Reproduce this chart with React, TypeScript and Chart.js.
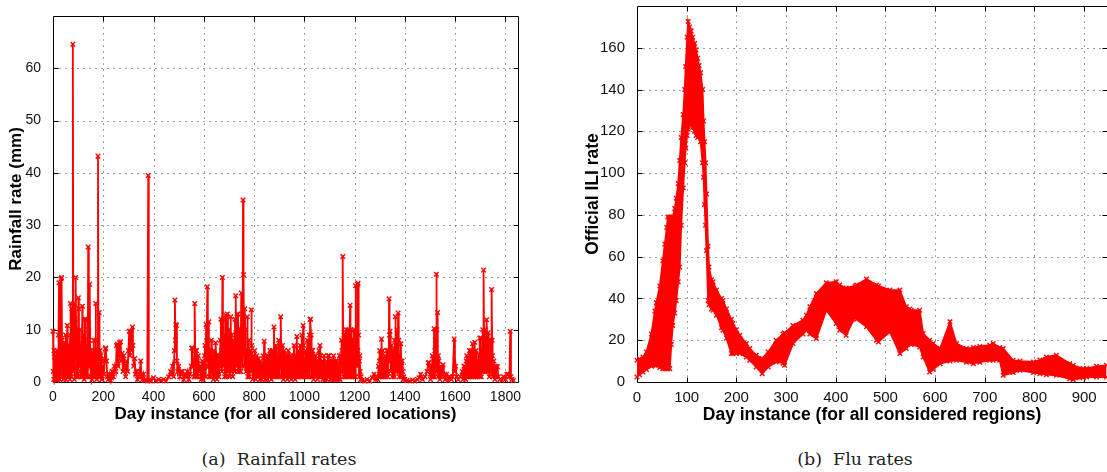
import React, { useEffect, useRef } from "react";
import { Chart, registerables } from "chart.js";

Chart.register(...registerables);

const RED = "#ff0000";
const SANS = "'Liberation Sans', Arial, Helvetica, sans-serif";

// ---------- (a) Rainfall rates: peaks / main readings ----------
const rainDays = [
  0, 3, 6, 9, 12, 15, 18, 21, 24, 26, 29, 32, 34, 36, 39, 42, 45, 48, 50, 53,
  57, 60, 63, 66, 70, 72, 75, 79, 81, 84, 87, 90, 92, 95, 98, 101, 103, 106, 109, 112,
  115, 117, 120, 123, 126, 128, 130, 133, 136, 140, 142, 146, 148, 151, 154, 157, 160, 163, 166, 170,
  172, 175, 179, 181, 184, 187, 190, 193, 196, 199, 202, 205, 208, 210, 213, 216, 220, 225, 230, 235,
  240, 245, 250, 253, 256, 259, 262, 265, 269, 272, 275, 278, 282, 285, 289, 293, 297, 300, 303, 306,
  309, 312, 316, 318, 321, 325, 328, 332, 336, 340, 345, 349, 352, 356, 360, 365, 370, 375, 379, 381,
  385, 390, 400, 410, 420, 430, 440, 450, 460, 468, 472, 476, 480, 483, 485, 487, 489, 491, 493, 496,
  500, 505, 510, 515, 520, 525, 530, 535, 540, 545, 550, 552, 554, 557, 560, 564, 566, 569, 572, 577,
  580, 584, 588, 592, 596, 600, 603, 606, 609, 612, 614, 616, 620, 623, 626, 630, 633, 636, 640, 643,
  647, 650, 654, 658, 662, 666, 668, 670, 674, 676, 678, 681, 684, 687, 690, 694, 697, 700, 704, 707,
  710, 713, 717, 720, 724, 727, 730, 733, 736, 739, 742, 745, 749, 752, 756, 758, 760, 763, 766, 770,
  773, 776, 779, 782, 786, 789, 792, 795, 799, 802, 805, 809, 813, 817, 821, 825, 829, 833, 836, 840,
  843, 847, 851, 855, 859, 863, 866, 870, 875, 879, 882, 886, 890, 894, 898, 902, 906, 908, 911, 915,
  918, 922, 926, 930, 934, 938, 942, 946, 950, 954, 957, 961, 965, 970, 973, 977, 980, 984, 987, 990,
  993, 995, 998, 1001, 1005, 1008, 1012, 1015, 1020, 1023, 1025, 1028, 1031, 1035, 1038, 1042, 1046, 1050, 1055, 1058,
  1062, 1065, 1068, 1072, 1076, 1080, 1084, 1088, 1092, 1095, 1098, 1101, 1105, 1108, 1112, 1116, 1120, 1124, 1128, 1132,
  1136, 1140, 1144, 1148, 1150, 1153, 1155, 1158, 1161, 1164, 1167, 1170, 1174, 1178, 1182, 1184, 1187, 1190, 1193, 1197,
  1200, 1204, 1206, 1208, 1211, 1214, 1216, 1219, 1222, 1226, 1230, 1240, 1250, 1260, 1270, 1277, 1284, 1290, 1295, 1300,
  1303, 1307, 1310, 1314, 1318, 1322, 1326, 1330, 1334, 1337, 1339, 1341, 1344, 1348, 1352, 1356, 1359, 1362, 1365, 1369,
  1373, 1376, 1380, 1384, 1387, 1391, 1395, 1400, 1408, 1420, 1430, 1440, 1450, 1456, 1463, 1470, 1480, 1488, 1493, 1496,
  1500, 1505, 1509, 1513, 1516, 1519, 1522, 1525, 1527, 1530, 1533, 1537, 1541, 1545, 1549, 1552, 1555, 1560, 1566, 1572,
  1578, 1585, 1590, 1596, 1599, 1602, 1606, 1612, 1620, 1628, 1635, 1640, 1644, 1648, 1652, 1655, 1658, 1662, 1666, 1669,
  1672, 1675, 1678, 1681, 1685, 1690, 1695, 1698, 1702, 1705, 1710, 1713, 1716, 1720, 1722, 1725, 1728, 1731, 1734, 1737,
  1741, 1745, 1748, 1752, 1756, 1760, 1764, 1768, 1772, 1778, 1785, 1792, 1800, 1806, 1812, 1816, 1819, 1822, 1826, 1832,
];
const rainRates = [
  9.7, 0.5, 4.8, 1, 3, 0.3, 4.5, 2, 19, 5, 1.5, 19.8, 20, 8, 3, 0.5, 7.5, 2, 9, 3.5,
  10.8, 4, 1, 7, 15, 6, 14, 64.6, 2, 15, 8, 20, 10, 3, 6, 16.1, 14, 5, 2, 7,
  4, 14.5, 9, 3, 12, 6, 12, 2, 5, 25.8, 10, 18.7, 6, 3, 4.5, 1, 2, 8, 3, 15,
  5, 2, 43.2, 3, 13.3, 6, 1, 4, 0.5, 3, 1.5, 4, 6.3, 6.5, 4, 1, 0.5, 1.5, 0.3, 2,
  1, 3, 2, 7, 7.2, 3, 5, 7.5, 7.7, 4, 5.5, 2, 5, 3, 1, 4, 2, 6, 9.7, 5,
  9.7, 6, 10.5, 7, 3, 4.5, 1.5, 2, 0.5, 1, 2, 4, 1, 0.5, 1.5, 0.3, 0.5, 0.2, 39.5, 0.3,
  0.5, 0.2, 0.8, 0.2, 0.5, 0.3, 0.5, 0.2, 1, 2, 1.5, 3, 1, 6, 15.7, 8, 11, 10.8, 4, 2,
  3, 1, 2, 2, 0.5, 1.5, 1, 2, 0.5, 1.5, 3, 6.5, 6.5, 3, 4, 15, 6, 3, 4, 3.5,
  2, 3, 1, 2.5, 1, 3, 5, 3, 11, 8, 18.2, 6, 11.5, 5, 3, 8, 4, 2, 6, 3,
  7.5, 4, 2, 5, 3, 8, 12, 6, 20, 8, 12, 5, 9, 12.8, 5, 13, 7, 4, 9, 12.5,
  6, 4, 8, 5, 12, 16.5, 8, 13, 13, 6, 10, 5, 17, 10, 34.8, 20.5, 8, 14, 6, 4,
  12.5, 5, 8, 3, 6, 13.8, 4, 2.5, 5, 6, 2, 3, 1, 4.5, 2, 4, 1, 3, 5, 7.8,
  3, 2, 5, 1.5, 3, 6, 2, 5, 4, 10.5, 3, 6, 2, 5, 8, 6, 12.5, 6.2, 3, 5,
  2, 4, 1.5, 3, 5, 2, 4, 1, 3, 5, 3, 5, 2, 8.7, 3, 6, 3, 7, 4, 9,
  5, 10.8, 4, 2, 6, 3, 8, 4, 9, 12, 12, 6, 3, 4, 1.5, 3, 5, 2, 4, 6,
  7, 3, 1, 4, 2, 3, 1, 4, 2, 3, 5, 2, 4, 1, 3, 5, 1, 4, 2, 3,
  1, 5, 2, 8, 6, 24, 4, 9, 9.2, 4, 7, 3, 10, 6, 14.7, 8, 4, 6, 3, 10,
  5, 18.4, 8, 5, 18.7, 18.9, 9, 4, 2, 1, 0.3, 0.2, 0.5, 0.2, 0.8, 1.5, 0.5, 1, 3, 6,
  4, 8.2, 3, 4, 2, 5, 3, 2, 6, 15.9, 9, 9.7, 5, 4, 6, 3, 8, 12.5, 6, 10,
  13.2, 8, 4, 7.3, 3, 2, 1, 0.5, 0.3, 0.2, 0.4, 0.2, 0.5, 0.8, 1.5, 0.5, 1, 2, 3.7, 3.7,
  1.5, 3, 5, 3, 10.2, 6, 4, 20.6, 10, 13.3, 5, 2, 1, 2, 1.5, 3.3, 1, 0.5, 1.5, 0.3,
  1, 0.5, 1, 8.2, 2, 3, 1, 0.5, 1, 2, 3, 2, 4, 2, 4.6, 4.6, 2, 5, 3, 7.3,
  3, 5, 7.6, 3, 4, 2, 5, 8.4, 8.4, 4, 10, 21.4, 6, 9, 10, 11.9, 5, 9.4, 4, 3,
  8, 17.7, 5, 2, 1.5, 3, 2.9, 2.9, 1, 0.5, 0.3, 1, 0.5, 1.5, 1.5, 1, 9.7, 1, 0.5, 0.3,
];
// ---------- (a) extra readings of the dense low-rate mass ----------
const rainExtraDays = [
  1, 4, 7, 10, 13, 16, 19, 22, 27, 30, 37, 40, 43, 46, 51, 55, 58, 61, 64, 67,
  68, 73, 77, 82, 85, 88, 93, 96, 99, 104, 107, 110, 113, 118, 121, 124, 127, 131, 134, 138,
  143, 145, 149, 152, 155, 158, 161, 164, 168, 171, 174, 177, 182, 185, 188, 191, 194, 197,
  561, 563, 567, 571, 575, 578, 586, 590, 594, 598, 602, 605, 608, 611, 618, 621, 625, 628, 632, 635,
  638, 642, 645, 649, 652, 656, 660, 664, 672, 679, 683, 686, 689, 692, 696, 699, 702, 706, 709, 712,
  715, 719, 722, 726, 729, 732, 735, 738, 741, 744, 747, 751, 754, 762, 765, 768, 772, 775, 778, 781,
  784, 788, 791, 794, 797, 801, 804, 807, 811, 815, 819, 823, 827, 831, 835, 838, 842, 845, 849, 853,
  857, 861, 865, 868, 872, 877, 881, 884, 888, 892, 896, 900, 904,
  910, 913, 917, 920, 924, 928, 932, 936, 940, 944, 948, 952, 956, 959, 963, 967, 972, 975, 979, 982,
  986, 989, 992, 997, 1000, 1003, 1006, 1010, 1013, 1017, 1021, 1027, 1030, 1033, 1037, 1040, 1044, 1048, 1052, 1057,
  1060, 1064, 1067, 1070, 1074, 1078, 1082, 1086, 1090, 1094, 1097, 1100, 1103, 1107, 1110, 1114, 1118, 1122, 1126, 1130,
  1134, 1138, 1142, 1146, 1152, 1157, 1160, 1163, 1166, 1169, 1172, 1176, 1180, 1183, 1186, 1189, 1192, 1195, 1199, 1202,
  1205, 1210, 1213, 1218, 1221, 1224,
  1292, 1297, 1299, 1302, 1305, 1309, 1312, 1316, 1320, 1324, 1328, 1332, 1336, 1343, 1346, 1350, 1354, 1358, 1361, 1364,
  1367, 1371, 1375, 1378, 1382, 1386, 1389, 1393,
  1502, 1507, 1511, 1515, 1518, 1521, 1524, 1529, 1532, 1535, 1539, 1543,
  1632, 1638, 1642, 1646, 1650, 1654, 1657, 1660, 1664, 1668, 1671, 1674, 1677, 1680, 1683, 1688, 1692, 1697, 1700, 1704,
  1708, 1712, 1715, 1718, 1721, 1724, 1727, 1730, 1733, 1736, 1739, 1743, 1747, 1750, 1754, 1758, 1762,
];
const rainExtraRates = [
  2, 6, 0.5, 5, 1, 6, 0.5, 9, 0.5, 8, 1, 6, 2, 1, 0.5, 6, 1, 7, 2, 0.5,
  9, 1, 8, 6, 0.5, 12, 1, 8, 1, 3, 10, 1, 4, 1, 6, 0.5, 8, 1, 7, 1,
  3, 8, 1, 6, 0.5, 5, 1, 5, 1, 8, 0.5, 6, 1, 5, 1, 5, 0.5, 2,
  1, 4, 1, 6, 1, 5, 3, 0.5, 4, 0.5, 2, 7, 1, 4, 3, 1, 6, 1, 2, 5,
  0.5, 4, 1, 5, 0.5, 4, 1, 5, 2, 3, 1, 6, 1, 8, 2, 10, 1, 6, 2, 9,
  1, 7, 2, 9, 3, 6, 2, 10, 2, 8, 2, 6, 3, 3, 10, 2, 6, 1, 5, 1,
  5, 2, 7, 0.5, 4, 1, 4, 0.5, 5, 1, 3, 0.5, 3, 0.5, 2, 1, 4, 0.5, 4, 0.5,
  5, 1, 4, 0.5, 6, 1, 5, 1, 7, 1, 4, 1, 7,
  1, 7, 0.5, 6, 1, 5, 0.5, 6, 1, 5, 0.5, 4, 1, 7, 0.5, 5, 1, 4, 1, 5,
  1, 6, 1, 7, 1, 4, 1, 5, 1, 6, 1, 9, 1, 6, 0.5, 5, 1, 4, 0.5, 3,
  1, 5, 1, 3, 0.5, 5, 0.5, 3, 0.5, 5, 1, 4, 0.5, 4, 0.5, 4, 0.5, 3, 0.5, 4,
  0.5, 3, 0.5, 5, 2, 1, 5, 1, 10, 1, 5, 1, 8, 1, 10, 1, 8, 1, 7, 1,
  9, 3, 6, 1, 5, 0.5,
  0.5, 1, 4, 1, 5, 1, 6, 1, 4, 1, 6, 1, 4, 2, 7, 1, 5, 1, 6, 2,
  8, 2, 5, 1, 4, 1, 4, 0.5,
  0.5, 1, 1, 2, 1, 8, 2, 4, 1, 4, 0.5, 3,
  0.5, 3, 0.5, 5, 1, 1, 6, 1, 6, 1, 5, 1, 4, 1, 6, 1, 3, 1, 5, 1,
  6, 2, 9, 2, 6, 2, 8, 2, 7, 1, 5, 2, 8, 1, 4, 0.5, 1,
];
const rainXTicks = [0, 200, 400, 600, 800, 1000, 1200, 1400, 1600, 1800];
const rainYTicks = [0, 10, 20, 30, 40, 50, 60];

// ---------- (b) Flu rates (band: upper / lower envelope) ----------
const fluDays = [
  0, 5, 12, 19, 29, 36, 39, 46, 52, 56, 60, 62, 66, 69, 72, 76, 79, 83, 86, 89,
  93, 96, 98, 101, 103, 106, 109, 112, 116, 119, 122, 125, 128, 132, 134, 136, 138, 140, 143, 145,
  150, 153, 160, 170, 173, 180, 190, 193, 200, 207, 220, 227, 240, 252, 264, 280, 294, 297, 314, 334,
  341, 348, 361, 381, 401, 408, 421, 439, 442, 462, 482, 486, 509, 529, 542, 549, 552, 569, 576, 589,
  596, 610, 630, 643, 663, 677, 690, 710, 717, 730, 737, 757, 771, 798, 811, 824, 844, 871, 878, 898,
  905, 925, 945,
];
const fluUpper = [
  10.4, 11, 12, 14.4, 23, 34, 38, 46, 58, 66, 74, 79, 79, 79, 79, 83, 88, 95, 106, 117,
  128, 140, 151, 165, 172.6, 170, 168, 165, 162, 159, 155, 151.5, 148, 140, 125, 115, 105, 90, 65, 55,
  49, 48, 44, 40, 39, 35, 30, 28, 25, 22.4, 18.4, 16, 12.8, 11.2, 14.4, 20, 23, 23.5, 27, 29.6,
  32, 36, 42.4, 47.5, 48, 46.4, 45, 46, 46.4, 49.3, 46.4, 46, 44, 44, 36, 35, 34.4, 34.4, 23.2, 20,
  18.4, 16, 28.8, 18.4, 16, 16.5, 17, 17.6, 18.4, 16.5, 16, 10.4, 10, 9.6, 10.5, 12, 12.8, 8.8, 8, 6.4,
  6.5, 7.5, 8,
];
const fluLower = [
  2.4, 3.5, 4.8, 6, 7.5, 8, 8, 7, 6.4, 6.4, 6.4, 6.4, 6.4, 18, 27, 33, 39, 48, 55, 75,
  93, 105, 112, 118, 121, 124, 123, 122, 120, 118, 117, 118, 115, 105, 98, 85, 75, 63, 39, 37,
  35, 34.4, 32, 26, 24.8, 21, 13.6, 13.6, 13.6, 13.6, 12, 10.4, 7.2, 4, 7.2, 9.6, 9, 8, 18.4, 23,
  24.8, 23, 20.8, 34.4, 28, 24.8, 22.4, 31.2, 30, 26.4, 20, 19.2, 24, 13.6, 16, 18.4, 18, 16.8, 12, 4.8,
  6, 8.8, 10, 10.4, 9.5, 8.8, 9.5, 10.4, 10.4, 10.4, 3.2, 4.5, 5.6, 4.5, 4, 3.5, 3.2, 1.5, 1.1, 2,
  2.4, 2.4, 2.4,
];
const fluXTicks = [0, 100, 200, 300, 400, 500, 600, 700, 800, 900];
const fluYTicks = [0, 20, 40, 60, 80, 100, 120, 140, 160];

// MATLAB-like frame: dotted grid, black box, inward tick marks
const framePlugin = {
  id: "matlabFrame",
  beforeDatasetsDraw(chart: any) {
    const { ctx, chartArea: a, scales } = chart;
    const xs = scales.x;
    const ys = scales.y;
    const L = Math.round(a.left) + 0.5;
    const R = Math.round(a.right) + 0.5;
    const T = Math.round(a.top) + 0.5;
    const B = Math.round(a.bottom) + 0.5;
    ctx.save();
    ctx.lineWidth = 1;
    ctx.strokeStyle = "rgba(30,30,30,0.85)";
    ctx.setLineDash([1, 5]);
    ctx.beginPath();
    for (const t of xs.ticks) {
      const px = Math.round(xs.getPixelForValue(t.value)) + 0.5;
      if (px <= L + 1 || px >= R - 1) continue;
      ctx.moveTo(px, B);
      ctx.lineTo(px, T);
    }
    for (const t of ys.ticks) {
      const py = Math.round(ys.getPixelForValue(t.value)) + 0.5;
      if (py <= T + 1 || py >= B - 1) continue;
      ctx.moveTo(L, py);
      ctx.lineTo(R, py);
    }
    ctx.stroke();
    ctx.setLineDash([]);
    ctx.strokeStyle = "#000";
    ctx.beginPath();
    ctx.rect(L, T, R - L, B - T);
    const tl = 5;
    for (const t of xs.ticks) {
      const px = Math.round(xs.getPixelForValue(t.value)) + 0.5;
      if (px <= L + 1 || px >= R - 1) continue;
      ctx.moveTo(px, B);
      ctx.lineTo(px, B - tl);
      ctx.moveTo(px, T);
      ctx.lineTo(px, T + tl);
    }
    for (const t of ys.ticks) {
      const py = Math.round(ys.getPixelForValue(t.value)) + 0.5;
      if (py <= T + 1 || py >= B - 1) continue;
      ctx.moveTo(L, py);
      ctx.lineTo(L + tl, py);
      ctx.moveTo(R, py);
      ctx.lineTo(R - tl, py);
    }
    ctx.stroke();
    ctx.restore();
  },
};

function makeScales(o: {
  xMax: number;
  yMax: number;
  xTicks: number[];
  yTicks: number[];
  yAxisWidth: number;
  tickSize: number;
  titleSize: number;
  xTitle: string;
  yTitle: string;
  xLabelPad: number;
  yLabelPad: number;
  xTitlePad: number;
  yTitlePad: number;
}) {
  return {
    x: {
      type: "linear",
      min: 0,
      max: o.xMax,
      afterBuildTicks: (s: any) => {
        s.ticks = o.xTicks.map((v) => ({ value: v }));
      },
      afterFit: (s: any) => {
        s.height = 48;
        s.paddingLeft = 0;
        s.paddingRight = 0;
      },
      grid: { display: false },
      border: { display: false },
      ticks: {
        autoSkip: false,
        maxRotation: 0,
        padding: o.xLabelPad,
        color: "#111",
        font: { family: SANS, size: o.tickSize },
        callback: (v: any) => String(v),
      },
      title: {
        display: true,
        text: o.xTitle,
        color: "#000",
        font: { family: SANS, size: o.titleSize, weight: "bold" },
        padding: { top: 0, bottom: o.xTitlePad },
      },
    },
    y: {
      type: "linear",
      min: 0,
      max: o.yMax,
      afterBuildTicks: (s: any) => {
        s.ticks = o.yTicks.map((v) => ({ value: v }));
      },
      afterFit: (s: any) => {
        s.width = o.yAxisWidth;
        s.paddingTop = 0;
        s.paddingBottom = 0;
      },
      grid: { display: false },
      border: { display: false },
      ticks: {
        autoSkip: false,
        padding: o.yLabelPad,
        color: "#111",
        font: { family: SANS, size: o.tickSize },
        callback: (v: any) => String(v),
      },
      title: {
        display: true,
        text: o.yTitle,
        color: "#000",
        font: { family: SANS, size: o.titleSize, weight: "bold" },
        padding: { top: o.yTitlePad, bottom: 0 },
      },
    },
  };
}

function rainConfig(): any {
  const pts = rainDays
    .map((d, i) => ({ x: d, y: rainRates[i] }))
    .concat(rainExtraDays.map((d, i) => ({ x: d, y: rainExtraRates[i] })))
    .sort((p, q) => p.x - q.x);
  return {
    type: "line",
    data: {
      datasets: [
        {
          data: pts,
          borderColor: RED,
          borderWidth: 1.8,
          pointStyle: "crossRot",
          pointRadius: 3.2,
          pointBorderColor: RED,
          pointBorderWidth: 1.4,
          pointBackgroundColor: RED,
          fill: false,
          tension: 0,
          clip: 3,
        },
      ],
    },
    options: {
      animation: false,
      responsive: false,
      events: [],
      layout: { padding: { left: 0, top: 16, right: 22, bottom: 0 } },
      plugins: { legend: { display: false }, tooltip: { enabled: false } },
      scales: makeScales({
        xMax: 1850,
        yMax: 70,
        xTicks: rainXTicks,
        yTicks: rainYTicks,
        yAxisWidth: 53,
        tickSize: 14,
        titleSize: 17,
        xTitle: "Day instance (for all considered locations)",
        yTitle: "Rainfall rate (mm)",
        xLabelPad: -1,
        yLabelPad: 4,
        xTitlePad: 5,
        yTitlePad: 6,
      }),
    },
    plugins: [framePlugin],
  };
}

function fluConfig(): any {
  const common = {
    borderColor: RED,
    borderWidth: 1.8,
    pointStyle: "crossRot",
    pointRadius: 3.2,
    pointBorderColor: RED,
    pointBorderWidth: 1.4,
    pointBackgroundColor: RED,
    tension: 0,
    clip: 3,
  };
  return {
    type: "line",
    data: {
      datasets: [
        { ...common, data: fluDays.map((d, i) => ({ x: d, y: fluUpper[i] })), fill: false },
        {
          ...common,
          data: fluDays.map((d, i) => ({ x: d, y: fluLower[i] })),
          fill: "-1",
          backgroundColor: RED,
        },
      ],
    },
    options: {
      animation: false,
      responsive: false,
      events: [],
      layout: { padding: { left: 0, top: 6, right: 8, bottom: 0 } },
      plugins: { legend: { display: false }, tooltip: { enabled: false }, filler: { propagate: false } },
      scales: makeScales({
        xMax: 946,
        yMax: 180,
        xTicks: fluXTicks,
        yTicks: fluYTicks,
        yAxisWidth: 77,
        tickSize: 15,
        titleSize: 17.5,
        xTitle: "Day instance (for all considered regions)",
        yTitle: "Official ILI rate",
        xLabelPad: -1.5,
        yLabelPad: 4,
        xTitlePad: 4.5,
        yTitlePad: 22.5,
      }),
    },
    plugins: [framePlugin],
  };
}

const captionStyle: React.CSSProperties = {
  position: "absolute",
  top: 449,
  width: 300,
  height: 20,
  lineHeight: "20px",
  fontFamily: "'DejaVu Serif', serif",
  fontSize: 17.5,
  color: "#222",
  textAlign: "center",
  whiteSpace: "pre",
};

export default function App() {
  const leftRef = useRef<HTMLCanvasElement>(null);
  const rightRef = useRef<HTMLCanvasElement>(null);

  useEffect(() => {
    const c1 = new Chart(leftRef.current as HTMLCanvasElement, rainConfig());
    const c2 = new Chart(rightRef.current as HTMLCanvasElement, fluConfig());
    return () => {
      c1.destroy();
      c2.destroy();
    };
  }, []);

  return (
    <div
      style={{
        position: "fixed",
        left: 0,
        top: 0,
        width: 1107,
        height: 472,
        overflow: "hidden",
        background: "#fff",
      }}
    >
      <canvas
        ref={leftRef}
        width={540}
        height={430}
        style={{ position: "absolute", left: 0, top: 0, width: 540, height: 430, display: "block" }}
      />
      <canvas
        ref={rightRef}
        width={555}
        height={430}
        style={{ position: "absolute", left: 560, top: 0, width: 555, height: 430, display: "block" }}
      />
      <div style={{ ...captionStyle, left: 129 }}>(a)  Rainfall rates</div>
      <div style={{ ...captionStyle, left: 705 }}>(b)  Flu rates</div>
    </div>
  );
}
